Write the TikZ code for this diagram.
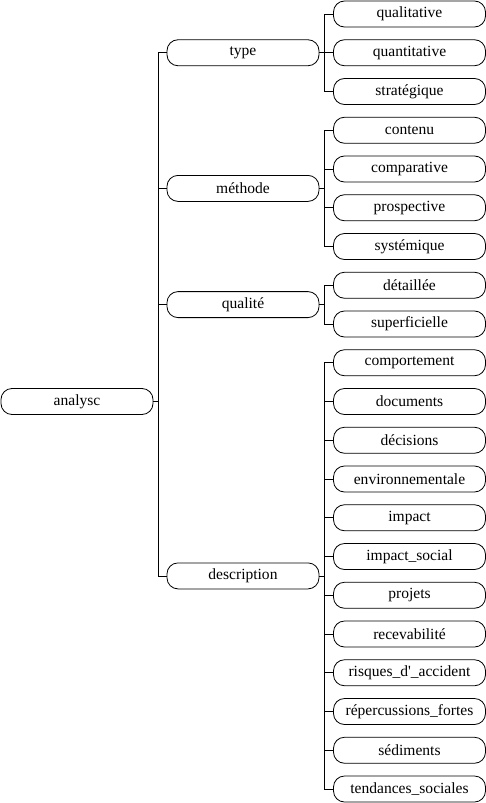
\documentclass[tikz,border=0pt]{standalone}
\usepackage{fontspec}
\newfontfamily\nodefont{Liberation Serif}
\usetikzlibrary{positioning}

\begin{document}
\begin{tikzpicture}[x=1bp,y=-1bp,
  term/.style={draw,rounded corners=11bp,minimum width=152bp,minimum height=26bp,
    inner sep=0pt,font=\nodefont\fontsize{15.6}{18}\selectfont,line width=0.8bp},
  branch/.style={draw,line width=0.8bp}
]
  \useasboundingbox (0,0) rectangle (486,803);

  % root
  \node[term] (analysc) at (77,401.5) {analysc};

  % second level
  \node[term] (type) at (243,52.75) {type};
  \node[term] (methode) at (243,188.4) {méthode};
  \node[term] (qualite) at (243,304.6) {qualité};
  \node[term] (description) at (243,575.9) {description};

  % leaves
  \node[term] (qualitative) at (409.5,14) {qualitative};
  \node[term] (quantitative) at (409.5,52.75) {quantitative};
  \node[term] (strategique) at (409.5,91.5) {stratégique};
  \node[term] (contenu) at (409.5,130.25) {contenu};
  \node[term] (comparative) at (409.5,169) {comparative};
  \node[term] (prospective) at (409.5,207.75) {prospective};
  \node[term] (systemique) at (409.5,246.5) {systémique};
  \node[term] (detaillee) at (409.5,285.25) {détaillée};
  \node[term] (superficielle) at (409.5,324) {superficielle};
  \node[term] (comportement) at (409.5,362.75) {comportement};
  \node[term] (documents) at (409.5,401.5) {documents};
  \node[term] (decisions) at (409.5,440.25) {décisions};
  \node[term] (environ) at (409.5,479) {environnementale};
  \node[term] (impact) at (409.5,517.75) {impact};
  \node[term] (impactsoc) at (409.5,556.5) {impact\_social};
  \node[term] (projets) at (409.5,595.25) {projets};
  \node[term] (recev) at (409.5,634) {recevabilité};
  \node[term] (risques) at (409.5,672.75) {risques\_d'\_accident};
  \node[term] (reperc) at (409.5,711.5) {répercussions\_fortes};
  \node[term] (sediments) at (409.5,750.25) {sédiments};
  \node[term] (tendances) at (409.5,789) {tendances\_sociales};

  % connectors
  \foreach \c in {type,methode,qualite,description}
    \draw[branch] (analysc.east) -- ++(5,0) |- (\c.west);
  \foreach \c in {qualitative,quantitative,strategique}
    \draw[branch] (type.east) -- ++(5,0) |- (\c.west);
  \foreach \c in {contenu,comparative,prospective,systemique}
    \draw[branch] (methode.east) -- ++(5,0) |- (\c.west);
  \foreach \c in {detaillee,superficielle}
    \draw[branch] (qualite.east) -- ++(5,0) |- (\c.west);
  \foreach \c in {comportement,documents,decisions,environ,impact,impactsoc,
      projets,recev,risques,reperc,sediments,tendances}
    \draw[branch] (description.east) -- ++(5,0) |- (\c.west);
\end{tikzpicture}
\end{document}
